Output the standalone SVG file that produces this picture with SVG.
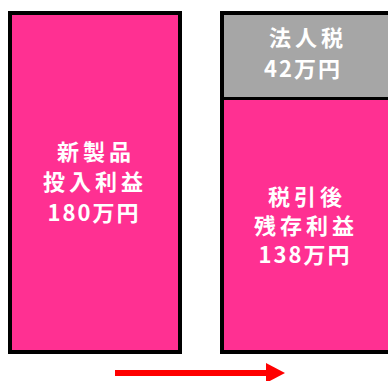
<svg xmlns="http://www.w3.org/2000/svg" width="388" height="381" viewBox="0 0 388 381">
<style>
.box{stroke:#000;stroke-width:4}
.pink{fill:#FF3092}
.gray{fill:#A6A6A6}
.t{font-family:"Noto Sans CJK JP","Noto Sans",sans-serif;font-weight:bold;font-size:22px;fill:#fff;text-anchor:middle;letter-spacing:4px}
.n{letter-spacing:2px}
</style>
<rect width="388" height="381" fill="#fff"/>
<g id="before">
<rect class="box pink" x="10" y="13" width="170" height="339"/>
<text class="t" x="96" y="160">新製品</text>
<text class="t" x="95" y="190">投入利益</text>
<text class="t n" x="94" y="221">180万円</text>
</g>
<g id="tax">
<rect class="gray" x="222" y="13" width="168" height="85"/>
<text class="t" x="308" y="46">法人税</text>
<text class="t n" x="303" y="77">42万円</text>
</g>
<g id="after">
<rect class="pink" x="222" y="98" width="168" height="254"/>
<text class="t" x="307" y="205">税引後</text>
<text class="t" x="306" y="234">残存利益</text>
<text class="t n" x="305" y="263">138万円</text>
</g>
<g id="frame">
<rect x="222" y="13" width="170" height="339" fill="none" stroke="#000" stroke-width="4"/>
<line x1="222" y1="98.5" x2="392" y2="98.5" stroke="#000" stroke-width="3"/>
</g>
<g id="connectors">
<rect x="115" y="370" width="152" height="6" fill="#FF0000"/>
<polygon points="266,363 285,373 266,383" fill="#FF0000"/>
</g>
</svg>
